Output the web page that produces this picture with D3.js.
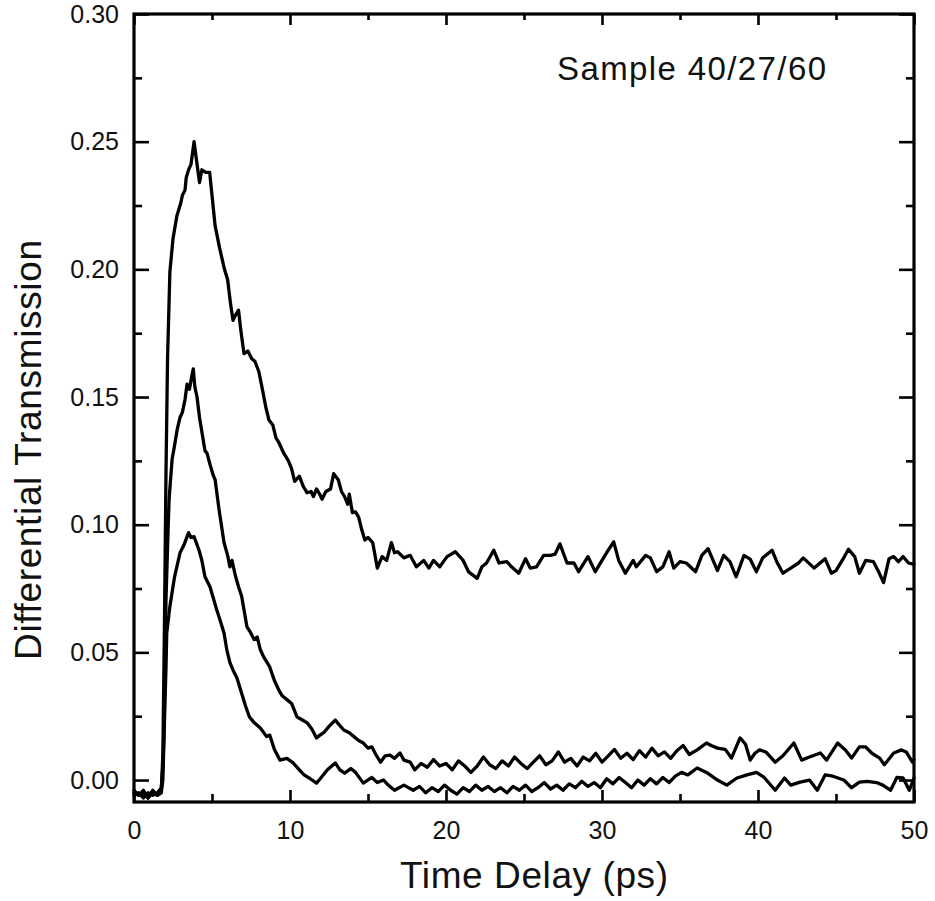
<!DOCTYPE html>
<html>
<head>
<meta charset="utf-8">
<script src="https://cdn.jsdelivr.net/npm/d3@7"></script>
<style>
  html, body { margin: 0; padding: 0; background: #fff; }
  svg { display: block; }
  text { font-family: "Liberation Sans", Arial, Helvetica, sans-serif; fill: #111; }
</style>
</head>
<body>
<svg id="chart" width="935" height="901"></svg>
<script>
// ---------- data ----------
const xLabel = "Time Delay (ps)";
const yLabel = "Differential Transmission";
const sampleLabel = "Sample 40/27/60";
const xTicksMajor = [0, 10, 20, 30, 40, 50];
const xTicksMinor = [5, 15, 25, 35, 45];
const yTicksMajor = [0.00, 0.05, 0.10, 0.15, 0.20, 0.25, 0.30];
const yTicksMinor = [0.025, 0.075, 0.125, 0.175, 0.225, 0.275];
const xDomain = [0, 50];
const yDomain = [-0.0086, 0.30];

// top curve
const timeA = [0,0.3,0.6,0.9,1.2,1.5,1.75,1.85,1.95,2.05,2.15,2.3,2.5,2.75,3.0,3.1,3.27,3.35,3.5,3.65,3.85,4.0,4.2,4.35,4.6,4.85,5.2,5.5,5.8,6.0,6.2,6.35,6.5,6.7,6.85,7.05,7.3,7.55,7.75,8.0,8.2,8.45,8.65,8.9,9.1,9.3,9.6,9.9,10.1,10.3,10.6,10.85,11.1,11.35,11.5,11.7,11.9,12.05,12.3,12.6,12.8,13.1,13.3,13.5,13.7,13.8,14.0,14.2,14.4,14.6,14.8,15.0,15.3,15.6,15.9,16.2,16.5,16.7,16.9,17.3,17.7,18.1,18.57,18.9,19.2,19.6,20.07,20.6,21.1,21.45,22.0,22.3,22.6,23.06,23.4,23.9,24.2,24.66,25.1,25.4,25.8,26.26,26.7,27.0,27.3,27.76,28.2,28.5,29.1,29.57,30.0,30.4,30.75,31.07,31.5,32.0,32.2,32.8,33.1,33.5,33.9,34.3,34.6,35.0,35.4,36.0,36.4,36.8,37.4,37.8,38.2,38.6,39.1,39.5,39.9,40.3,40.9,41.2,41.6,42.1,42.6,42.9,43.6,44.3,44.7,45.0,45.4,45.8,46.2,46.5,46.9,47.4,47.7,48.05,48.4,48.7,49.0,49.3,49.65,50];
const valA = [-0.005,-0.006,-0.004,-0.007,-0.005,-0.006,-0.004,0.01,0.06,0.12,0.165,0.199,0.212,0.221,0.226,0.229,0.231,0.236,0.239,0.241,0.250,0.243,0.234,0.239,0.238,0.238,0.217,0.208,0.200,0.196,0.186,0.180,0.182,0.184,0.176,0.167,0.168,0.165,0.164,0.160,0.154,0.146,0.141,0.139,0.134,0.132,0.128,0.125,0.122,0.117,0.119,0.115,0.1125,0.113,0.111,0.114,0.112,0.110,0.113,0.114,0.120,0.1175,0.113,0.111,0.108,0.112,0.1047,0.105,0.103,0.098,0.094,0.095,0.093,0.083,0.0875,0.086,0.093,0.089,0.0894,0.087,0.088,0.0835,0.086,0.083,0.086,0.0835,0.0875,0.0894,0.086,0.0815,0.079,0.0835,0.085,0.090,0.085,0.0855,0.0835,0.081,0.0867,0.083,0.0835,0.088,0.088,0.0885,0.0925,0.085,0.085,0.0816,0.0875,0.0816,0.086,0.090,0.0933,0.086,0.081,0.086,0.0835,0.088,0.087,0.0816,0.0835,0.0894,0.083,0.0855,0.085,0.0816,0.088,0.0906,0.082,0.088,0.0855,0.0796,0.088,0.0865,0.0816,0.087,0.090,0.0855,0.081,0.083,0.085,0.087,0.083,0.0867,0.081,0.082,0.086,0.0904,0.0875,0.081,0.086,0.0855,0.082,0.0773,0.0867,0.0875,0.0855,0.0875,0.085,0.0845];

// middle curve
const timeB = [0,0.3,0.6,0.9,1.2,1.5,1.75,1.85,1.92,1.99,2.05,2.18,2.25,2.44,2.6,2.76,2.95,3.1,3.27,3.4,3.55,3.7,3.8,3.9,4.04,4.2,4.55,4.68,4.9,5.1,5.2,5.45,5.77,6.0,6.15,6.28,6.5,6.7,6.9,7.24,7.45,7.7,7.9,8.1,8.33,8.7,9.0,9.3,9.5,9.9,10.1,10.45,10.8,11.1,11.4,11.7,11.9,12.2,12.5,12.9,13.1,13.45,13.8,14.1,14.4,14.7,15.0,15.25,15.5,15.8,16.1,16.4,16.7,17.05,17.3,17.7,18.0,18.4,18.8,19.2,19.6,20.0,20.4,20.8,21.2,21.6,22.0,22.4,22.8,23.2,23.6,24.0,24.4,24.8,25.2,25.6,26.0,26.4,26.8,27.2,27.6,28.0,28.4,28.8,29.2,29.6,30.0,30.4,30.8,31.2,31.6,32.0,32.4,32.8,33.2,33.6,34.0,34.4,34.8,35.2,35.6,36.1,36.7,37.0,37.4,37.9,38.3,38.85,39.2,39.5,39.8,40.1,40.5,41.1,41.6,42.3,42.8,43.3,44.0,44.4,45.1,45.6,46.0,46.5,46.9,47.3,47.8,48.1,48.7,49.2,49.5,49.9,50];
const valB = [-0.006,-0.005,-0.007,-0.005,-0.006,-0.005,-0.003,0.005,0.018,0.044,0.0706,0.097,0.11,0.1255,0.131,0.137,0.142,0.144,0.149,0.155,0.153,0.158,0.161,0.154,0.150,0.142,0.129,0.128,0.123,0.119,0.1176,0.106,0.093,0.088,0.0835,0.086,0.080,0.0757,0.072,0.060,0.058,0.055,0.056,0.051,0.048,0.0443,0.039,0.035,0.033,0.031,0.030,0.0247,0.0235,0.0224,0.020,0.0165,0.0175,0.0188,0.021,0.0235,0.022,0.0196,0.0185,0.017,0.0155,0.0145,0.0125,0.013,0.010,0.007,0.0095,0.0098,0.0085,0.0106,0.0078,0.007,0.004,0.0065,0.005,0.008,0.0055,0.0065,0.004,0.0075,0.0055,0.003,0.0055,0.009,0.006,0.0045,0.0075,0.0055,0.009,0.0065,0.0045,0.007,0.0095,0.006,0.0075,0.011,0.007,0.0085,0.0055,0.009,0.0075,0.0105,0.007,0.0095,0.012,0.0085,0.0105,0.008,0.0115,0.009,0.0125,0.0095,0.011,0.0085,0.0115,0.0135,0.010,0.0118,0.0145,0.0135,0.0125,0.012,0.0086,0.0165,0.014,0.0078,0.0105,0.0118,0.011,0.007,0.0095,0.0145,0.0078,0.009,0.0106,0.0078,0.0145,0.0118,0.0086,0.013,0.013,0.0105,0.0086,0.006,0.0106,0.0118,0.011,0.007,0.008];

// bottom curve
const timeC = [0,0.3,0.6,0.9,1.2,1.5,1.75,1.85,1.93,2.05,2.1,2.3,2.6,2.95,3.2,3.5,3.65,3.85,4.17,4.35,4.55,4.87,5.05,5.3,5.5,5.77,5.95,6.15,6.35,6.6,6.9,7.15,7.4,7.7,8.1,8.5,8.7,9.0,9.36,9.8,10.2,10.6,10.9,11.3,11.7,12.0,12.4,12.9,13.2,13.5,13.9,14.2,14.7,15.25,15.6,16.0,16.3,16.7,17.3,17.9,18.3,18.7,19.1,19.5,19.9,20.3,20.7,21.1,21.5,21.9,22.3,22.7,23.1,23.5,23.9,24.3,24.7,25.1,25.5,25.9,26.3,26.7,27.1,27.5,27.9,28.3,28.7,29.1,29.5,29.9,30.3,30.7,31.1,31.5,31.9,32.3,32.7,33.1,33.5,33.9,34.3,34.7,35.1,35.5,36.1,36.7,37.4,38.0,38.65,39.3,39.9,40.4,41.1,41.7,42.1,42.7,43.3,43.8,44.3,44.8,45.5,46.0,46.5,47.0,47.6,48.0,48.5,48.9,49.3,49.7,50];
const valC = [-0.004,-0.006,-0.005,-0.007,-0.004,-0.006,-0.005,0.0,0.018,0.044,0.0576,0.068,0.0796,0.089,0.092,0.0969,0.095,0.0953,0.090,0.086,0.0796,0.0757,0.072,0.0667,0.063,0.0576,0.051,0.046,0.043,0.040,0.034,0.029,0.0247,0.0225,0.0204,0.017,0.0176,0.012,0.0078,0.0085,0.0067,0.004,0.002,0.0005,-0.0012,0.001,0.004,0.0067,0.004,0.0027,0.0045,0.003,-0.0012,0.001,-0.001,0.0,-0.002,-0.004,-0.002,-0.004,-0.0025,-0.005,-0.003,-0.0045,-0.002,-0.004,-0.0055,-0.003,-0.0045,-0.002,-0.004,-0.0025,-0.0045,-0.003,-0.005,-0.0025,-0.004,-0.002,-0.0045,-0.003,-0.001,-0.0035,-0.002,-0.004,-0.0015,-0.003,-0.0005,-0.0025,-0.001,-0.003,0.0005,-0.0015,0.001,-0.001,-0.003,0.0,-0.002,0.0005,-0.0015,0.001,-0.001,0.0015,0.003,0.002,0.0047,0.003,0.0,-0.002,0.0008,0.002,0.003,0.001,-0.004,0.0008,-0.002,-0.0008,0.0,-0.004,0.002,0.0015,0.0,-0.003,-0.0008,-0.0005,-0.001,-0.002,-0.004,0.001,0.0008,-0.004,0.0008];

// ---------- drawing ----------
const W = 935, H = 901;
const M = { left: 134, right: 914, top: 14, bottom: 802 };
const svg = d3.select("#chart");

const x = d3.scaleLinear().domain(xDomain).range([M.left, M.right]);
const y = d3.scaleLinear().domain(yDomain).range([M.bottom, M.top]);

const series = [
  { t: timeA, v: valA },
  { t: timeB, v: valB },
  { t: timeC, v: valC }
];

const line = d3.line().x(d => x(d[0])).y(d => y(d[1])).curve(d3.curveLinear);

const plot = svg.append("g");
series.forEach(s => {
  plot.append("path")
    .datum(s.t.map((t, i) => [t, s.v[i]]))
    .attr("d", line)
    .attr("fill", "none")
    .attr("stroke", "#000")
    .attr("stroke-width", 3.3)
    .attr("stroke-linejoin", "round")
    .attr("stroke-linecap", "round");
});

function styleAxis(g, size) {
  g.select(".domain").remove();
  g.selectAll(".tick line").attr("stroke", "#000").attr("stroke-width", 2.6);
  g.selectAll("text").attr("font-size", size).attr("fill", "#111")
    .attr("font-family", '"Liberation Sans", Arial, sans-serif');
}

// left axis (labels) + minor
svg.append("g").attr("transform", `translate(${M.left},0)`)
  .call(d3.axisLeft(y).tickValues(yTicksMajor).tickFormat(d3.format(".2f")).tickSize(-15).tickPadding(15))
  .call(g => styleAxis(g, 25));
svg.append("g").attr("transform", `translate(${M.left},0)`)
  .call(d3.axisLeft(y).tickValues(yTicksMinor).tickFormat("").tickSize(-8))
  .call(g => styleAxis(g, 25));
// right axis
svg.append("g").attr("transform", `translate(${M.right},0)`)
  .call(d3.axisRight(y).tickValues(yTicksMajor).tickFormat("").tickSize(-15))
  .call(g => styleAxis(g, 25));
svg.append("g").attr("transform", `translate(${M.right},0)`)
  .call(d3.axisRight(y).tickValues(yTicksMinor).tickFormat("").tickSize(-8))
  .call(g => styleAxis(g, 25));
// bottom axis
svg.append("g").attr("transform", `translate(0,${M.bottom})`)
  .call(d3.axisBottom(x).tickValues(xTicksMajor).tickFormat(d3.format("d")).tickSize(-12).tickPadding(19))
  .call(g => styleAxis(g, 25));
svg.append("g").attr("transform", `translate(0,${M.bottom})`)
  .call(d3.axisBottom(x).tickValues(xTicksMinor).tickFormat("").tickSize(-8))
  .call(g => styleAxis(g, 25));
// top axis
svg.append("g").attr("transform", `translate(0,${M.top})`)
  .call(d3.axisTop(x).tickValues(xTicksMajor).tickFormat("").tickSize(-11))
  .call(g => styleAxis(g, 25));
svg.append("g").attr("transform", `translate(0,${M.top})`)
  .call(d3.axisTop(x).tickValues(xTicksMinor).tickFormat("").tickSize(-6))
  .call(g => styleAxis(g, 25));

// frame
svg.append("rect")
  .attr("x", M.left).attr("y", M.top)
  .attr("width", M.right - M.left).attr("height", M.bottom - M.top)
  .attr("fill", "none").attr("stroke", "#000").attr("stroke-width", 3.2);

// titles
svg.append("text")
  .attr("x", 534).attr("y", 888)
  .attr("text-anchor", "middle").attr("font-size", 37)
  .attr("textLength", 268).attr("lengthAdjust", "spacing")
  .text(xLabel);

svg.append("text")
  .attr("transform", `translate(41,${(M.top + M.bottom) / 2 + 42}) rotate(-90)`)
  .attr("text-anchor", "middle").attr("font-size", 37)
  .attr("textLength", 420).attr("lengthAdjust", "spacing")
  .text(yLabel);

svg.append("text")
  .attr("x", 557).attr("y", 80)
  .attr("font-size", 33)
  .attr("textLength", 269).attr("lengthAdjust", "spacing")
  .text(sampleLabel);
</script>
</body>
</html>
